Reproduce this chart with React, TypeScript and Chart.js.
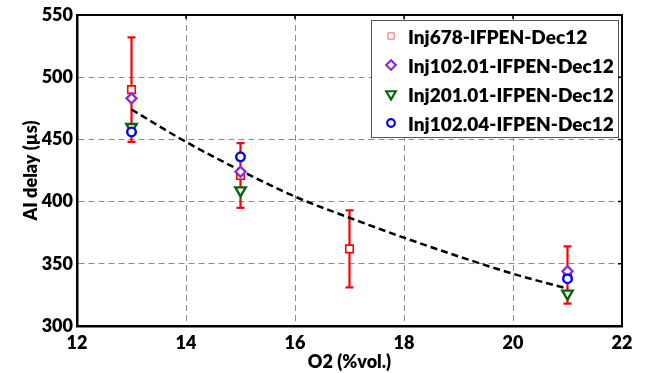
import React, { useEffect, useRef } from 'react';
import { Chart, registerables } from 'chart.js';

Chart.register(...registerables);

// ---- data ----
const o2Red = [13, 15, 17, 21];
const delayRed = [490, 421, 362, 341];
const errRed = [42, 26, 31, 23];
const o2Others = [13, 15, 21];
const delayPurple = [483, 424, 344];
const delayGreen = [460, 409, 326];
const delayBlue = [456, 436, 338];
const fitO2 = [13, 14, 15, 16, 17, 18, 19, 20, 21];
const fitDelay = [474, 448, 425, 404, 387, 371, 356, 342, 330];
const xTicks = [12, 14, 16, 18, 20, 22];
const yTicks = [300, 350, 400, 450, 500, 550];
const seriesLabels = [
  'Inj678-IFPEN-Dec12',
  'Inj102.01-IFPEN-Dec12',
  'Inj201.01-IFPEN-Dec12',
  'Inj102.04-IFPEN-Dec12',
];

const FONT = 'Lato, "Open Sans", "DejaVu Sans", sans-serif';
const WEIGHT = 800;
const RED = '#ff0000';
const PURPLE = '#8a2be2';
const GREEN = '#0a640a';
const BLUE = '#0000ff';

function drawMarker(ctx: CanvasRenderingContext2D, style: string, x: number, y: number, r: number, color: string, lw: number) {
  ctx.save();
  ctx.strokeStyle = color;
  ctx.fillStyle = '#fff';
  ctx.lineWidth = lw;
  ctx.beginPath();
  if (style === 'rect') {
    const s = r * Math.SQRT1_2;
    ctx.rect(x - s, y - s, 2 * s, 2 * s);
  } else if (style === 'rectRot') {
    ctx.moveTo(x - r, y);
    ctx.lineTo(x, y - r);
    ctx.lineTo(x + r, y);
    ctx.lineTo(x, y + r);
    ctx.closePath();
  } else if (style === 'triangleDown') {
    const a = (Math.PI * 2) / 3;
    let rad = Math.PI;
    ctx.moveTo(x + Math.sin(rad) * r, y - Math.cos(rad) * r);
    rad += a;
    ctx.lineTo(x + Math.sin(rad) * r, y - Math.cos(rad) * r);
    rad += a;
    ctx.lineTo(x + Math.sin(rad) * r, y - Math.cos(rad) * r);
    ctx.closePath();
  } else {
    ctx.arc(x, y, r, 0, Math.PI * 2);
  }
  ctx.fill();
  ctx.stroke();
  ctx.restore();
}

const framePlugin = {
  id: 'frameAndLegend',
  afterDraw(chart: any) {
    const { ctx, chartArea: a, scales } = chart;
    // legend box
    const legendItems = [
      { style: 'rect', color: '#ff6060', r: 4.5, lw: 1 },
      { style: 'rectRot', color: PURPLE, r: 4.8, lw: 2.2 },
      { style: 'triangleDown', color: GREEN, r: 5.5, lw: 2.2 },
      { style: 'circle', color: BLUE, r: 3.8, lw: 2.2 },
    ];
    const bx = a.right - 251;
    const by = a.top + 5;
    const bw = 247;
    const bh = 117;
    ctx.save();
    ctx.fillStyle = '#fff';
    ctx.fillRect(bx, by, bw, bh);
    ctx.strokeStyle = '#555';
    ctx.lineWidth = 1;
    ctx.strokeRect(bx + 0.5, by + 0.5, bw, bh);
    ctx.font = `${WEIGHT} 19px ${FONT}`;
    ctx.fillStyle = '#000';
    ctx.textBaseline = 'middle';
    ctx.textAlign = 'left';
    seriesLabels.forEach((lab, i) => {
      const cy = by + 17 + i * 29;
      const it = legendItems[i];
      drawMarker(ctx, it.style, bx + 20, cy - 1, it.r, it.color, it.lw);
      ctx.fillText(lab, bx + 37, cy + 1);
    });
    ctx.restore();

    // frame
    ctx.save();
    ctx.strokeStyle = '#000';
    ctx.lineWidth = 2;
    ctx.beginPath();
    ctx.moveTo(a.left, a.top);
    ctx.lineTo(a.right, a.top);
    ctx.lineTo(a.right, a.bottom);
    ctx.stroke();
    ctx.lineWidth = 1.5;
    ctx.beginPath();
    xTicks.forEach((v) => {
      const px = scales.x.getPixelForValue(v);
      ctx.moveTo(px, a.top);
      ctx.lineTo(px, a.top + 4);
    });
    yTicks.forEach((v) => {
      const py = scales.y.getPixelForValue(v);
      ctx.moveTo(a.right, py);
      ctx.lineTo(a.right - 4, py);
    });
    ctx.stroke();
    ctx.restore();
  },
};

export default function App() {
  const ref = useRef<HTMLCanvasElement | null>(null);

  useEffect(() => {
    document.body.style.margin = '0';
    const canvas = ref.current;
    if (!canvas) return;

    const errData: any[] = [];
    o2Red.forEach((x, i) => {
      errData.push({ x, y: delayRed[i] - errRed[i] });
      errData.push({ x, y: delayRed[i] + errRed[i] });
      errData.push({ x, y: null });
    });

    const pts = (xs: number[], ys: number[]) => xs.map((x, i) => ({ x, y: ys[i] }));

    const titleFont = { family: FONT, size: 18, weight: WEIGHT as any };
    const tickFont = { family: FONT, size: 18, weight: WEIGHT as any };

    const chart = new Chart(canvas, {
      type: 'scatter',
      data: {
        datasets: [
          {
            label: 'errorbars',
            data: errData,
            showLine: true,
            spanGaps: false,
            borderColor: RED,
            borderWidth: 2.2,
            pointStyle: 'line',
            pointRadius: 4,
            pointBorderWidth: 2.2,
            pointBorderColor: RED,
            order: 5,
          } as any,
          {
            label: 'fit',
            data: pts(fitO2, fitDelay),
            showLine: true,
            borderColor: '#000',
            borderWidth: 2.5,
            borderDash: [7, 4],
            pointRadius: 0,
            cubicInterpolationMode: 'monotone',
            order: 4,
          } as any,
          {
            label: seriesLabels[0],
            data: pts(o2Red, delayRed),
            pointStyle: 'rect',
            pointRadius: 5.3,
            pointBorderWidth: 1.6,
            pointBorderColor: RED,
            pointBackgroundColor: '#fff',
            order: 3,
          } as any,
          {
            label: seriesLabels[1],
            data: pts(o2Others, delayPurple),
            pointStyle: 'rectRot',
            pointRadius: 5,
            pointBorderWidth: 2.4,
            pointBorderColor: PURPLE,
            pointBackgroundColor: '#fff',
            order: 2,
          } as any,
          {
            label: seriesLabels[2],
            data: pts(o2Others, delayGreen),
            pointStyle: 'triangle',
            rotation: 180,
            pointRadius: 6,
            pointBorderWidth: 2.4,
            pointBorderColor: GREEN,
            pointBackgroundColor: '#fff',
            order: 1,
          } as any,
          {
            label: seriesLabels[3],
            data: pts(o2Others, delayBlue),
            pointStyle: 'circle',
            pointRadius: 4.3,
            pointBorderWidth: 2.4,
            pointBorderColor: BLUE,
            pointBackgroundColor: '#fff',
            order: 0,
          } as any,
        ],
      },
      options: {
        responsive: false,
        animation: false,
        events: [],
        layout: { padding: { top: 15, right: 26, left: 0, bottom: 0 } },
        plugins: {
          legend: { display: false },
          tooltip: { enabled: false },
        },
        scales: {
          x: {
            type: 'linear',
            min: 12,
            max: 22,
            afterBuildTicks: (s: any) => {
              s.ticks = xTicks.map((v) => ({ value: v }));
            },
            afterFit: (s: any) => {
              s.height = 47;
            },
            ticks: { font: tickFont, color: '#000', padding: 6, maxRotation: 0 },
            grid: { color: '#8c8c8c', lineWidth: 1, drawTicks: false },
            border: { display: true, color: '#000', width: 2.5, dash: [6, 4] },
            title: { display: true, text: 'O2 (%vol.)', font: titleFont, color: '#000', padding: 0 },
          },
          y: {
            type: 'linear',
            min: 300,
            max: 550,
            afterBuildTicks: (s: any) => {
              s.ticks = yTicks.map((v) => ({ value: v }));
            },
            afterFit: (s: any) => {
              s.width = 77;
            },
            ticks: { font: tickFont, color: '#000', padding: 4 },
            grid: { color: '#8c8c8c', lineWidth: 1, drawTicks: false },
            border: { display: true, color: '#000', width: 2.5, dash: [6, 4] },
            title: { display: true, text: 'AI delay (µs)', font: titleFont, color: '#000', padding: { top: 20, bottom: 0 } },
          },
        },
      },
      plugins: [framePlugin],
    });

    return () => chart.destroy();
  }, []);

  return (
    <div style={{ position: 'absolute', left: 0, top: 0, width: 648, height: 373 }}>
      <canvas ref={ref} width={648} height={373} style={{ display: 'block' }} />
    </div>
  );
}
